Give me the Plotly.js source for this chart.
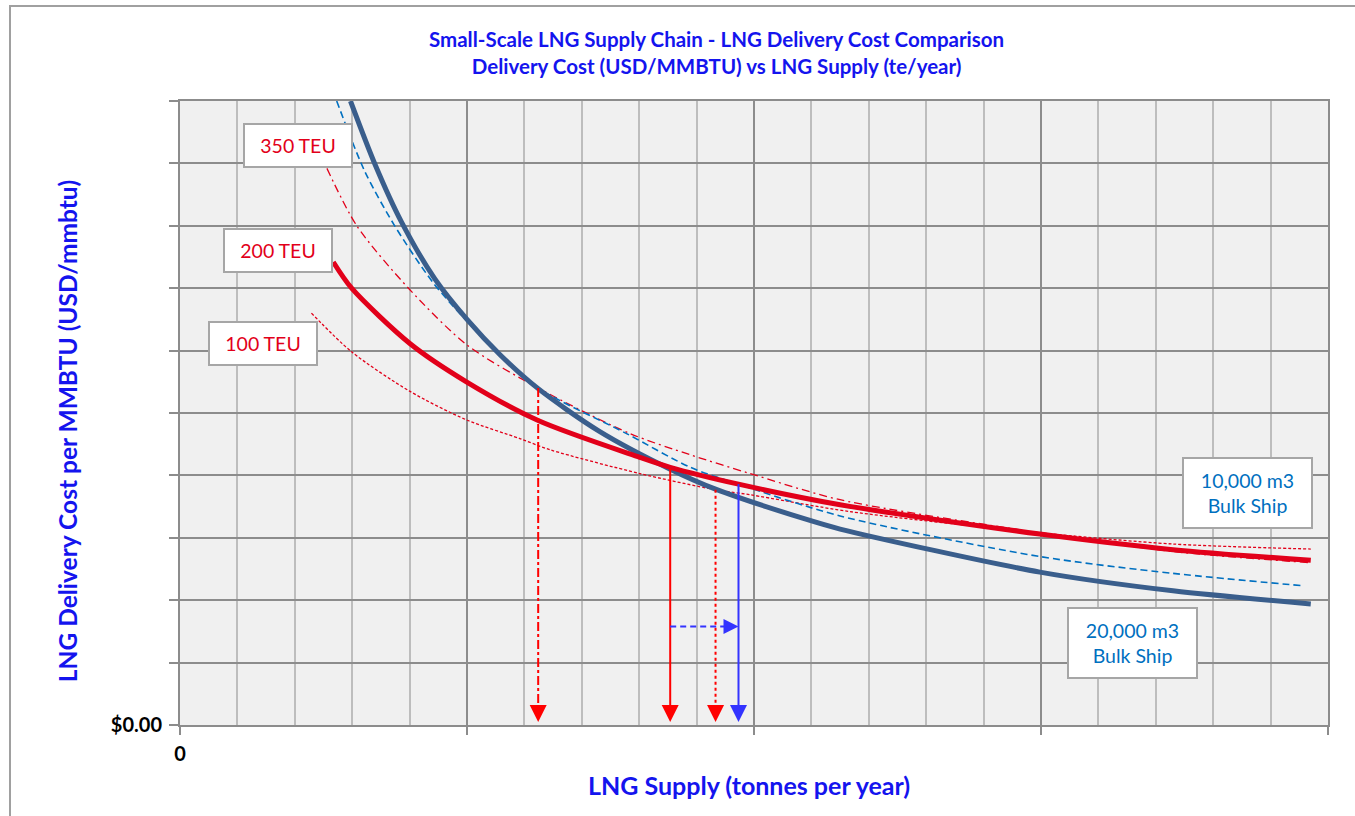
<!DOCTYPE html>
<html>
<head>
<meta charset="utf-8">
<script src="https://cdn.plot.ly/plotly-3.0.1.min.js"></script>
<style>
  html, body { margin: 0; padding: 0; overflow: hidden; background: #fff; }
  #chart { width: 1355px; height: 816px; position: relative; }
  #frame { position: absolute; left: 9px; top: 5px; width: 1400px; height: 900px;
           border: 2px solid #a0a0a0; pointer-events: none; }
</style>
</head>
<body>
<div id="chart"></div>
<div id="frame"></div>
<script>
// ---- data ----
// x: LNG supply (grid units), y: delivery cost (grid units)
const ship20kX = [2.97, 3.40, 3.86, 4.44, 5.00, 5.58, 6.24, 7.30, 8.54, 9.33, 10.86, 11.5, 14.98, 17.3, 19.7];
const ship20kY = [10.0, 8.98, 8.06, 7.15, 6.50, 5.93, 5.39, 4.71, 4.10, 3.78, 3.31, 3.14, 2.45, 2.15, 1.94];

const ship10kX = [2.73, 3.22, 3.74, 4.40, 5.00, 5.58, 6.24, 7.78, 8.89, 9.73, 11.5, 14.98, 17.3, 19.58];
const ship10kY = [10.0, 8.87, 8.00, 7.10, 6.47, 5.94, 5.40, 4.67, 4.13, 3.86, 3.35, 2.70, 2.43, 2.23];

const teu200X = [2.67, 2.99, 4.01, 4.99, 6.24, 8.01, 8.54, 9.73, 11.5, 14.98, 17.3, 19.7];
const teu200Y = [7.42, 7.00, 6.11, 5.50, 4.88, 4.29, 4.13, 3.86, 3.53, 3.06, 2.81, 2.64];

const teu350X = [2.56, 3.08, 3.98, 5.00, 6.24, 7.84, 8.89, 9.93, 11.5, 14.98, 17.3, 19.7];
const teu350Y = [8.92, 8.00, 7.00, 6.09, 5.40, 4.67, 4.33, 4.03, 3.61, 3.08, 2.78, 2.60];

const teu100X = [2.29, 2.99, 4.00, 4.99, 5.92, 6.45, 8.01, 9.33, 9.93, 11.67, 14.98, 17.3, 19.7];
const teu100Y = [6.60, 5.98, 5.35, 4.89, 4.59, 4.41, 4.03, 3.77, 3.69, 3.42, 3.08, 2.90, 2.82];

// break-even arrows: x position and the curve crossing they start from
const arrowX   = [6.24, 8.54, 9.33, 9.73];
const arrowTop = [5.40, 4.11, 3.77, 3.86];
const arrowTip = 0.05;      // arrow heads stop just above the x axis
const shiftArrowY = 1.58;   // level of the horizontal shift arrow

const xTickVals = [0, 5, 10, 15, 20];
const xTickText = ['0', '', '', '', ''];
const yTickVals = [0, 1, 2, 3, 4, 5, 6, 7, 8, 9, 10];
const yTickText = ['$0.00', '', '', '', '', '', '', '', '', '', ''];

// ---- styling ----
const FONT = "Lato, 'Open Sans', sans-serif";
const RED = '#E2001A', BLUE_DARK = '#3A5E8C', BLUE_LIGHT = '#0070C0';
const ARROW_RED = '#FF0000', ARROW_BLUE = '#3333FF', TITLE_BLUE = '#1414EE';
const arrowColor = [ARROW_RED, ARROW_RED, ARROW_RED, ARROW_BLUE];
const arrowDash  = ['dashdot', 'solid', 'dot', 'solid'];
const headLen = 0.26;   // arrow head length in y units (≈16 px)
const headLenX = 0.28;  // arrow head length in x units (≈16 px)

const spl = {shape: 'spline', smoothing: 0.8};
const traces = [
  {x: teu100X, y: teu100Y, mode: 'lines', line: Object.assign({color: RED, width: 1.3, dash: '3px,2px'}, spl)},
  {x: teu350X, y: teu350Y, mode: 'lines', line: Object.assign({color: RED, width: 1.3, dash: '8px,4px,2px,4px'}, spl)},
  {x: ship10kX, y: ship10kY, mode: 'lines', line: Object.assign({color: BLUE_LIGHT, width: 1.6, dash: '7px,4px'}, spl)},
  {x: ship20kX, y: ship20kY, mode: 'lines', line: Object.assign({color: BLUE_DARK, width: 5}, spl)},
  {x: teu200X, y: teu200Y, mode: 'lines', line: Object.assign({color: RED, width: 5}, spl)}
];

arrowX.forEach((ax, i) => {
  traces.push({x: [ax, ax], y: [arrowTop[i], arrowTip + headLen * 0.9], mode: 'lines',
    line: {color: arrowColor[i], width: 2, dash: arrowDash[i]}});
  traces.push({x: [ax], y: [arrowTip], mode: 'markers',
    marker: {symbol: 'arrow-down', size: 17, color: arrowColor[i], line: {width: 0}}});
});
// horizontal shift arrow from 200 TEU break-even to 10,000 m3 break-even
traces.push({x: [arrowX[1], arrowX[3] - headLenX * 0.9], y: [shiftArrowY, shiftArrowY], mode: 'lines',
  line: {color: ARROW_BLUE, width: 2, dash: '6px,4px'}});
traces.push({x: [arrowX[3]], y: [shiftArrowY], mode: 'markers',
  marker: {symbol: 'arrow-right', size: 15, color: ARROW_BLUE, line: {width: 0}}});

function box(text, x, y, color, w, h) {
  return {text: text, x: x, y: y, xref: 'x', yref: 'y', showarrow: false,
    xanchor: 'center', yanchor: 'middle',
    font: {family: FONT, size: 19.5, color: color}, bgcolor: '#ffffff',
    bordercolor: '#A6A6A6', borderwidth: 2, borderpad: 0, width: w, height: h,
    align: 'center', valign: 'middle'};
}

const layout = {
  width: 1355, height: 816,
  margin: {l: 180, r: 27, t: 101, b: 91},
  paper_bgcolor: '#ffffff', plot_bgcolor: '#F0F0F0',
  showlegend: false,
  font: {family: FONT},
  xaxis: {
    range: [0, 20], tickmode: 'array', tickvals: xTickVals, ticktext: xTickText,
    showgrid: true, gridcolor: '#8C8C8C', gridwidth: 2,
    minor: {dtick: 1, tick0: 0, showgrid: true, gridcolor: '#BDBDBD', gridwidth: 2, ticks: ''},
    ticks: 'outside', ticklen: 8, tickwidth: 2, tickcolor: '#8C8C8C',
    showline: true, linecolor: '#8C8C8C', linewidth: 2, mirror: true,
    zeroline: false, tickfont: {family: FONT, size: 20, color: '#000', weight: 'bold'},
    ticklabelstandoff: 2, fixedrange: true
  },
  yaxis: {
    range: [0, 10], tickmode: 'array', tickvals: yTickVals, ticktext: yTickText,
    showgrid: true, gridcolor: '#8C8C8C', gridwidth: 2,
    ticks: 'outside', ticklen: 9, tickwidth: 2, tickcolor: '#8C8C8C',
    showline: true, linecolor: '#8C8C8C', linewidth: 2, mirror: true,
    zeroline: false, tickfont: {family: FONT, size: 20, color: '#000', weight: 'bold'},
    ticklabelstandoff: 3, fixedrange: true
  },
  annotations: [
    {text: '<b>Small-Scale LNG Supply Chain - LNG Delivery Cost Comparison<br>Delivery Cost (USD/MMBTU) vs LNG Supply (te/year)</b>',
     xref: 'paper', yref: 'paper', x: 0.4669, y: 1.0785, xanchor: 'center', yanchor: 'middle',
     showarrow: false, font: {family: FONT, size: 20.5, color: TITLE_BLUE}, align: 'center'},
    {text: '<b>LNG Delivery Cost per MMBTU (USD/mmbtu)</b>', xref: 'paper', yref: 'paper',
     x: -0.0984, y: 0.471, xanchor: 'center', yanchor: 'middle', textangle: -90, showarrow: false,
     font: {family: FONT, size: 24.5, color: TITLE_BLUE}},
    {text: '<b>LNG Supply (tonnes per year)</b>', xref: 'paper', yref: 'paper',
     x: 0.4956, y: -0.0962, xanchor: 'center', yanchor: 'middle', showarrow: false,
     font: {family: FONT, size: 25, color: TITLE_BLUE}},
    box('350 TEU', 2.06, 9.28, RED, 106, 41),
    box('200 TEU', 1.70, 7.60, RED, 106, 41),
    box('100 TEU', 1.44, 6.11, RED, 106, 41),
    box('10,000 m3<br>Bulk Ship', 18.60, 3.72, BLUE_LIGHT, 127, 68),
    box('20,000 m3<br>Bulk Ship', 16.60, 1.32, BLUE_LIGHT, 127, 68)
  ]
};

Plotly.newPlot('chart', traces, layout, {staticPlot: true});
</script>
</body>
</html>
